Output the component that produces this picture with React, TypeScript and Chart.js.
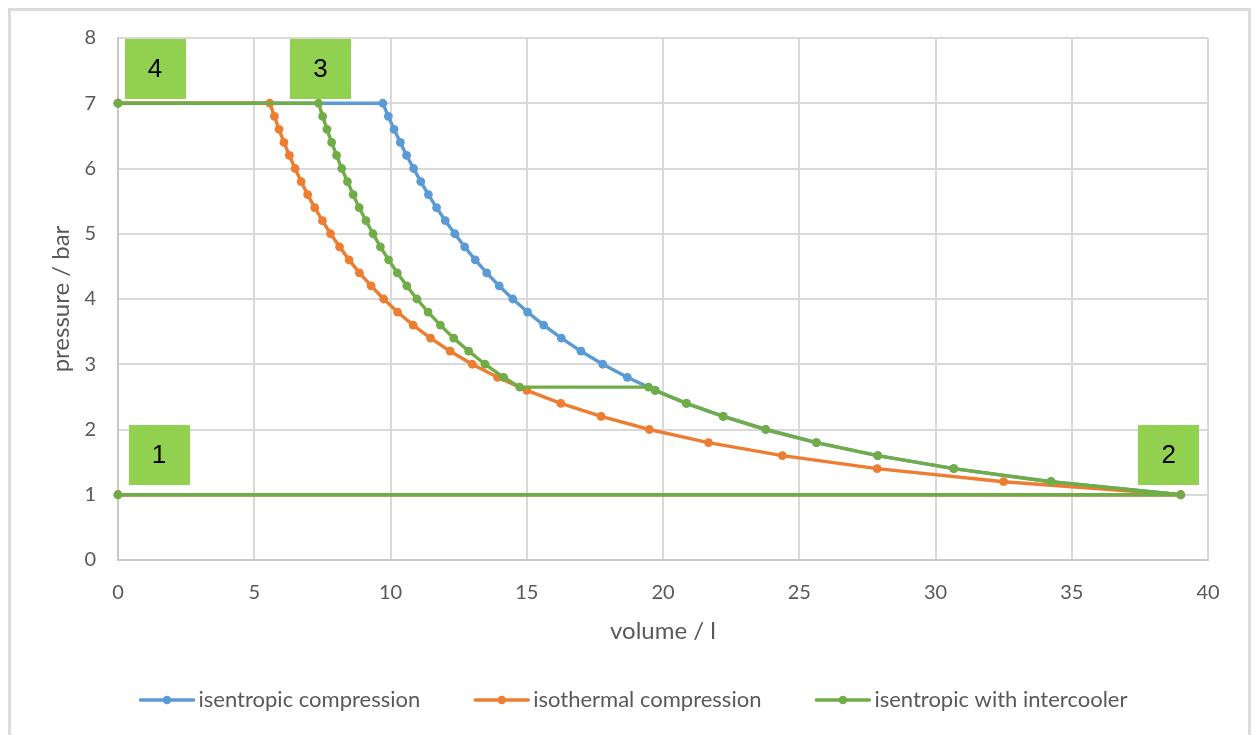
import React, { useEffect, useRef } from 'react';
import { Chart, registerables } from 'chart.js';

Chart.register(...registerables);

// ---- data ----
const compressionPressure = [1, 1, 1.2, 1.4, 1.6, 1.8, 2.0, 2.2, 2.4, 2.6, 2.8, 3.0, 3.2, 3.4, 3.6, 3.8, 4.0, 4.2, 4.4, 4.6, 4.8, 5.0, 5.2, 5.4, 5.6, 5.8, 6.0, 6.2, 6.4, 6.6, 6.8, 7.0, 7];

const isentropicVolume = [0, 39, 34.24, 30.67, 27.88, 25.63, 23.77, 22.21, 20.86, 19.71, 18.69, 17.79, 16.99, 16.27, 15.62, 15.03, 14.49, 13.99, 13.53, 13.11, 12.72, 12.36, 12.01, 11.69, 11.39, 11.11, 10.85, 10.59, 10.36, 10.13, 9.92, 9.72, 0];

const isothermalVolume = [0, 39, 32.5, 27.86, 24.38, 21.67, 19.5, 17.73, 16.25, 15.0, 13.93, 13.0, 12.19, 11.47, 10.83, 10.26, 9.75, 9.29, 8.86, 8.48, 8.13, 7.8, 7.5, 7.22, 6.96, 6.72, 6.5, 6.29, 6.09, 5.91, 5.74, 5.57, 0];

const intercoolerVolume = [0, 39, 34.24, 30.67, 27.88, 25.63, 23.77, 22.21, 20.86, 19.71, 19.47, 14.74, 14.15, 13.47, 12.87, 12.32, 11.83, 11.38, 10.97, 10.6, 10.25, 9.93, 9.63, 9.36, 9.1, 8.85, 8.63, 8.42, 8.21, 8.02, 7.84, 7.67, 7.51, 7.36, 0];
const intercoolerPressure = [1, 1, 1.2, 1.4, 1.6, 1.8, 2.0, 2.2, 2.4, 2.6, 2.65, 2.65, 2.8, 3.0, 3.2, 3.4, 3.6, 3.8, 4.0, 4.2, 4.4, 4.6, 4.8, 5.0, 5.2, 5.4, 5.6, 5.8, 6.0, 6.2, 6.4, 6.6, 6.8, 7.0, 7];

const seriesNames = ['isentropic compression', 'isothermal compression', 'isentropic with intercooler'];
const seriesColors = ['#5B9BD5', '#ED7D31', '#70AD47'];

const stateLabels = ['1', '2', '3', '4'];
const stateIndex = [0, 1, 33, 34];

const xMin = 0, xMax = 40, xStep = 5;
const yMin = 0, yMax = 8, yStep = 1;

const FONT = 'Lato, "Open Sans", sans-serif';
const TEXT = '#595959';

function toPoints(xs: number[], ys: number[]) {
  return xs.map((x, i) => ({ x, y: ys[i] }));
}

// label box offsets relative to their anchor point (pixels)
const labelOffsets = [
  { dx: 41, dy: -40 },
  { dx: -12, dy: -40 },
  { dx: 2, dy: -34 },
  { dx: 37, dy: -34 },
];

const stateLabelPlugin = {
  id: 'stateLabels',
  afterDatasetsDraw(chart: any) {
    const { ctx, scales } = chart;
    const xs = scales.x, ys = scales.y;
    ctx.save();
    stateLabels.forEach((txt, k) => {
      const idx = stateIndex[k];
      const px = xs.getPixelForValue(intercoolerVolume[idx]);
      const py = ys.getPixelForValue(intercoolerPressure[idx]);
      const cx = px + labelOffsets[k].dx;
      const cy = py + labelOffsets[k].dy;
      const w = 61, h = 60;
      ctx.fillStyle = '#92D050';
      ctx.fillRect(Math.round(cx - w / 2), Math.round(cy - h / 2), w, h);
      ctx.fillStyle = '#000000';
      ctx.font = '26px "Liberation Sans", Arial, sans-serif';
      ctx.textAlign = 'center';
      ctx.textBaseline = 'middle';
      ctx.fillText(txt, cx, cy + 1);
    });
    ctx.restore();
  },
};

const legendPlugin = {
  id: 'lineLegend',
  afterDraw(chart: any) {
    const { ctx } = chart;
    ctx.save();
    ctx.font = `22px ${FONT}`;
    const lineW = 53, gap = 5, itemGap = 55;
    const widths = seriesNames.map((n) => ctx.measureText(n).width);
    const total = widths.reduce((a, b) => a + b + lineW + gap, 0) + itemGap * (seriesNames.length - 1);
    const centerX = 623;
    const y = 689;
    let x = centerX - total / 2;
    seriesNames.forEach((name, i) => {
      ctx.strokeStyle = seriesColors[i];
      ctx.lineWidth = 3.5;
      ctx.lineCap = 'round';
      ctx.beginPath();
      ctx.moveTo(x, y);
      ctx.lineTo(x + lineW, y);
      ctx.stroke();
      ctx.fillStyle = seriesColors[i];
      ctx.beginPath();
      ctx.arc(x + lineW / 2, y, 4.3, 0, Math.PI * 2);
      ctx.fill();
      ctx.fillStyle = TEXT;
      ctx.textAlign = 'left';
      ctx.textBaseline = 'middle';
      ctx.fillText(name, x + lineW + gap, y);
      x += lineW + gap + widths[i] + itemGap;
    });
    ctx.restore();
  },
};

export default function App() {
  const ref = useRef<HTMLCanvasElement | null>(null);

  useEffect(() => {
    if (!ref.current) return;
    const mk = (i: number, xs: number[], ys: number[], order: number) => ({
      label: seriesNames[i],
      data: toPoints(xs, ys),
      showLine: true,
      borderColor: seriesColors[i],
      backgroundColor: seriesColors[i],
      pointBackgroundColor: seriesColors[i],
      pointBorderColor: seriesColors[i],
      pointBorderWidth: 0,
      pointRadius: 4.4,
      borderWidth: 3.4,
      tension: 0,
      clip: false,
      order,
    });
    const chart = new Chart(ref.current, {
      type: 'scatter',
      data: {
        datasets: [
          mk(0, isentropicVolume, compressionPressure, 2),
          mk(1, isothermalVolume, compressionPressure, 1),
          mk(2, intercoolerVolume, intercoolerPressure, 0),
        ],
      },
      options: {
        responsive: false,
        animation: false,
        devicePixelRatio: 1,
        layout: { padding: { top: 27, right: 40, bottom: 65, left: 0 }, autoPadding: false },
        plugins: {
          legend: { display: false },
          tooltip: { enabled: false },
        },
        scales: {
          x: {
            type: 'linear',
            min: xMin,
            max: xMax,
            afterFit: (s: any) => { s.height = 110; s.paddingLeft = 0; s.paddingRight = 0; },
            ticks: { stepSize: xStep, color: TEXT, font: { family: FONT, size: 20 }, padding: 21, maxRotation: 0 },
            grid: { color: '#d9d9d9', lineWidth: 2, drawTicks: false },
            border: { color: '#c8c8c8', width: 2 },
            title: {
              display: true,
              text: 'volume / l',
              color: TEXT,
              font: { family: FONT, size: 24 },
              padding: { top: 0, bottom: 24 },
            },
          },
          y: {
            type: 'linear',
            min: yMin,
            max: yMax,
            afterFit: (s: any) => { s.width = 107; s.paddingTop = 0; s.paddingBottom = 0; },
            ticks: { stepSize: yStep, color: TEXT, font: { family: FONT, size: 20 }, padding: 22 },
            grid: { color: '#d9d9d9', lineWidth: 2, drawTicks: false },
            border: { color: '#c8c8c8', width: 2 },
            title: {
              display: true,
              text: 'pressure / bar',
              color: TEXT,
              font: { family: FONT, size: 24 },
              padding: { top: 36, bottom: 0 },
            },
          },
        },
      },
      plugins: [stateLabelPlugin, legendPlugin],
    });
    return () => chart.destroy();
  }, []);

  return (
    <div
      style={{
        position: 'absolute',
        left: 8,
        top: 8,
        width: 1243,
        height: 727,
        boxSizing: 'border-box',
        borderTop: '3px solid #dcdcdc',
        borderLeft: '3px solid #dcdcdc',
        borderRight: '3px solid #dcdcdc',
        overflow: 'hidden',
        background: '#fff',
      }}
    >
      <canvas ref={ref} width={1237} height={724} style={{ display: 'block', width: 1237, height: 724 }} />
    </div>
  );
}
